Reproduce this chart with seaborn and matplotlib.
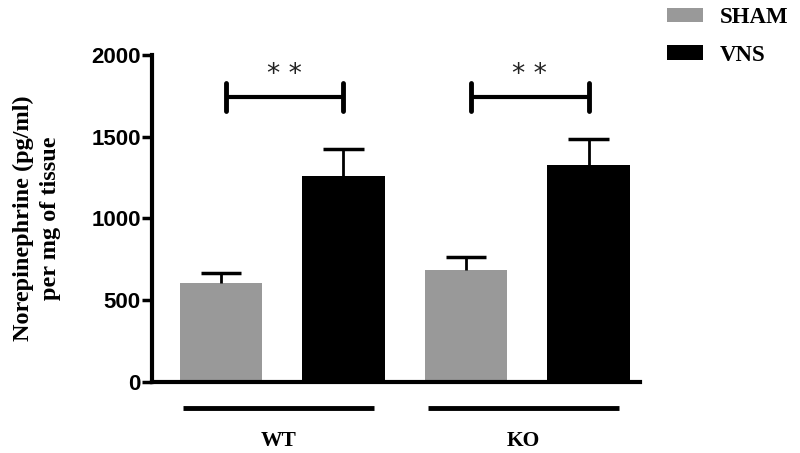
import seaborn as sns
import matplotlib.pyplot as plt
import matplotlib.transforms as mtransforms
from matplotlib.patches import Patch
import pandas as pd

genotypes = ["WT", "WT", "KO", "KO"]
treatments = ["SHAM", "VNS", "SHAM", "VNS"]
means = [605, 1262, 685, 1325]
sems = [62, 162, 80, 160]
bar_keys = ["WT SHAM", "WT VNS", "KO SHAM", "KO VNS"]
colors = {"SHAM": "#999999", "VNS": "#000000"}
sig_pairs = [(0, 1), (2, 3)]
sig_label = "* *"

df = pd.DataFrame({"key": bar_keys, "Genotype": genotypes,
                   "Treatment": treatments, "NE": means, "sem": sems})

sns.set_theme(style="white", rc={"text.color": "black", "axes.labelcolor": "black",
                                 "ytick.color": "black", "xtick.color": "black"})
serif = ["Liberation Serif", "DejaVu Serif"]
sans = ["Liberation Sans", "DejaVu Sans"]

fig = plt.figure(figsize=(8, 4.53), dpi=100)
ax = fig.add_axes([0.19, 0.1567, 0.61, 0.722])

sns.barplot(data=df, x="key", y="NE", hue="Treatment", palette=colors,
            dodge=False, width=0.67, errorbar=None, legend=False, ax=ax,
            saturation=1, edgecolor="none")

# upward-only error bars
xs = list(range(len(means)))
tops = [m + s for m, s in zip(means, sems)]
ax.vlines(xs, means, tops, color="black", lw=2, zorder=1)
ax.hlines(tops, [x - 0.165 for x in xs], [x + 0.165 for x in xs],
          color="black", lw=2.5, zorder=1)

ax.set_xlim(-0.563, 3.42)
ax.set_ylim(0, 2000)
ax.set_yticks([0, 500, 1000, 1500, 2000])
ax.set_xticks([])
ax.set_xlabel("")
ax.set_ylabel("Norepinephrine (pg/ml)\nper mg of tissue", family=serif,
              fontsize=17.5, fontweight="bold", labelpad=22, linespacing=1.35)
for lbl in ax.get_yticklabels():
    lbl.set_family(sans)
    lbl.set_fontweight("bold")
    lbl.set_fontsize(16)
ax.tick_params(axis="y", direction="out", length=7, width=2.5, left=True, pad=1)
sns.despine(ax=ax)
for s in ["left", "bottom"]:
    ax.spines[s].set_linewidth(3)
    ax.spines[s].set_color("black")

# significance brackets
for a, b in sig_pairs:
    y = 1743
    ax.plot([a + 0.04, b], [y, y], color="black", lw=3, solid_capstyle="butt")
    ax.plot([a + 0.04, a + 0.04], [y - 85, y + 85], color="black", lw=3.5)
    ax.plot([b, b], [y - 85, y + 85], color="black", lw=3.5)
    ax.text((a + 0.04 + b) / 2, 1880, sig_label, ha="center", va="center",
            fontsize=19, family=["DejaVu Sans"], color="#222222")

# group lines and labels under the axis
trans = mtransforms.blended_transform_factory(ax.transData, ax.transAxes)
for i, g in enumerate(["WT", "KO"]):
    x0, x1 = 2 * i - 0.31, 2 * i + 1 + 0.25
    ax.plot([x0, x1], [-0.08, -0.08], color="black", lw=3.5,
            transform=trans, clip_on=False, solid_capstyle="butt")
    ax.text((x0 + x1) / 2, -0.18, g, transform=trans, ha="center", va="center",
            family=serif, fontsize=15.5, fontweight="bold")

handles = [Patch(facecolor=colors[t], edgecolor="none", label=t)
           for t in ["SHAM", "VNS"]]
fig.legend(handles=handles, loc="upper left", bbox_to_anchor=(0.808, 1.03),
           frameon=False, prop={"family": serif, "weight": "bold", "size": 16.5},
           handlelength=1.55, handleheight=0.6, labelspacing=0.72, handletextpad=0.75)

fig.savefig("out.png", dpi=100)
